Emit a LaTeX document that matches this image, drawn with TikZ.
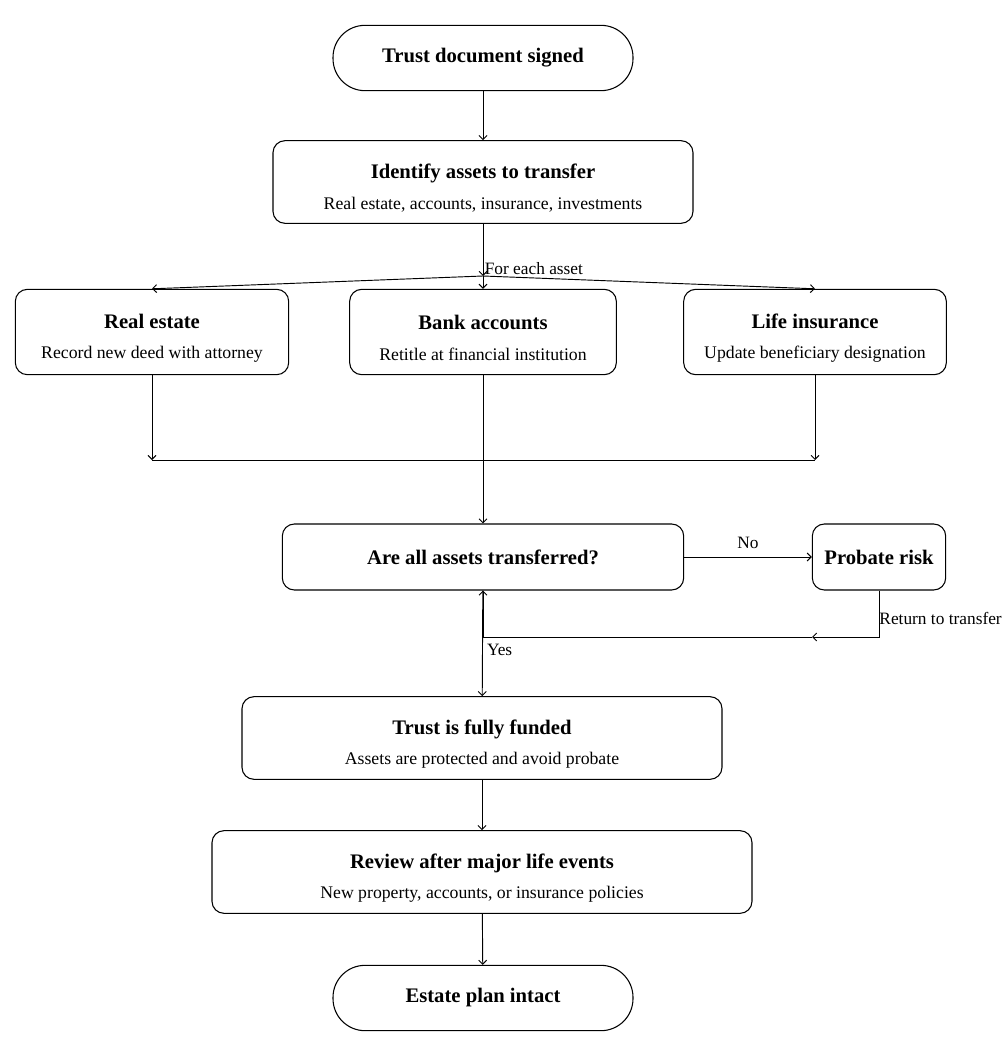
\documentclass[tikz,border=0pt]{standalone}
\usepackage{fontspec}
\setmainfont{Liberation Serif}
\usetikzlibrary{arrows.meta, positioning}

\newcommand{\ttl}[1]{{\fontsize{15.5}{18}\selectfont\bfseries #1}}
\newcommand{\twoline}[2]{{\fontsize{15.5}{18}\selectfont\bfseries\rule{0pt}{20pt}#1}\\[8pt]#2}

\begin{document}
\begin{tikzpicture}[
      x=0.75pt, y=-0.75pt,
      >={Straight Barb[length=3pt,width=6pt]},
      every path/.style={line width=0.7pt},
      pill/.style={rectangle, draw, line width=0.8pt, rounded corners=24pt, minimum width=225pt, minimum height=49pt, font=\fontsize{15.5}{18}\selectfont\bfseries},
      stepbox/.style={rectangle, draw, line width=0.8pt, rounded corners=9pt, minimum height=62pt, align=center, font=\fontsize{13.3}{15}\selectfont},
      lbl/.style={font=\fontsize{13}{15}\selectfont, inner sep=1pt}
    ]
      \useasboundingbox (0,0) rectangle (1006,1056);

      \node[pill] (start) at (483,58) {Trust document signed};
      \node[stepbox, minimum width=315pt] (identify) at (483,182) {\twoline{Identify assets to transfer}{Real estate, accounts, insurance, investments}};
      \coordinate (split) at (483,276);

      \node[stepbox, minimum width=205pt, minimum height=64pt] (realestate) at (152,332) {\twoline{Real estate}{Record new deed with attorney}};
      \node[stepbox, minimum width=200pt, minimum height=64pt] (bank) at (483,332) {\twoline{Bank accounts}{Retitle at financial institution}};
      \node[stepbox, minimum width=197pt, minimum height=64pt] (life) at (815,332) {\twoline{Life insurance}{Update beneficiary designation}};
      \coordinate (merge) at (483,460);

      \node[stepbox, minimum width=301pt, minimum height=49.5pt] (check) at (483,557) {\ttl{Are all assets transferred?}};
      \node[stepbox, minimum width=100pt, minimum height=49.5pt] (probate) at (879,557) {\ttl{Probate risk}};
      \coordinate (back) at (812,637);
      \coordinate (loop) at (483,637);

      \node[stepbox, minimum width=360pt] (funded) at (482,738) {\twoline{Trust is fully funded}{Assets are protected and avoid probate}};
      \node[stepbox, minimum width=405pt] (review) at (482,872) {\twoline{Review after major life events}{New property, accounts, or insurance policies}};
      \node[pill] (done) at (483,998) {Estate plan intact};

      \draw[->] (start) -- (identify);
      \draw[->] (identify) -- node[lbl, at end, anchor=south west] {For each asset} (split);
      \draw[->] (split) -- (realestate.north);
      \draw[->] (split) -- (bank.north);
      \draw[->] (split) -- (life.north);

      \draw[->] (realestate.south) -- (realestate.south |- merge);
      \draw[->] (life.south) -- (life.south |- merge);
      \draw (realestate.south |- merge) -- (life.south |- merge);
      \draw[->] (bank) -- (check);

      \draw[->] (check) -- node[lbl, above=5pt] {No} (probate);
      \draw[->] (probate.south) |- node[lbl, pos=0.3, anchor=west, inner sep=0pt] {Return to transfer} (back);
      \draw[->] (back) -- (loop) -- (check.south);

      \draw[->] (check) -- node[lbl, pos=0.47, anchor=north west, inner sep=3pt] {Yes} (funded);
      \draw[->] (funded) -- (review);
      \draw[->] (review) -- (done);
    \end{tikzpicture}
\end{document}
